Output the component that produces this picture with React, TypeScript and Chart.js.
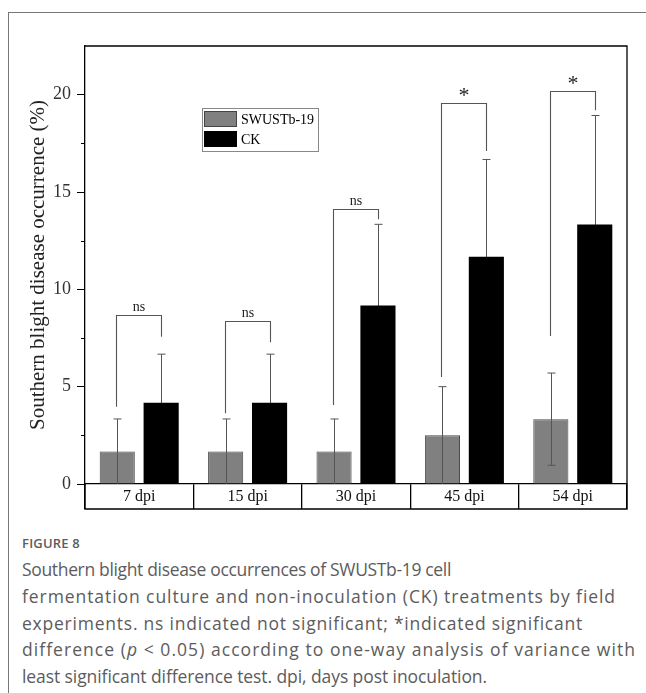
import React, { useEffect, useLayoutEffect, useRef } from "react";
import { Chart, registerables } from "chart.js";

Chart.register(...registerables);

const categories = ["7 dpi", "15 dpi", "30 dpi", "45 dpi", "54 dpi"];
const seriesNames = ["SWUSTb-19", "CK"];
const swustValues = [1.67, 1.67, 1.67, 2.5, 3.33];
const swustErrors = [1.67, 1.67, 1.67, 2.5, 2.37];
const ckValues = [4.17, 4.17, 9.17, 11.67, 13.33];
const ckErrors = [2.5, 2.5, 4.17, 5.0, 5.6];
const bracketLeft = [3.97, 3.63, 4.06, 5.5, 7.6];
const bracketTop = [8.67, 8.35, 14.12, 19.55, 20.2];
const bracketRight = [7.57, 7.28, 13.6, 17.1, 19.2];
const sigLabels = ["ns", "ns", "ns", "*", "*"];
const yTicks = [0, 5, 10, 15, 20];
const yMinorTicks = [2.5, 7.5, 12.5, 17.5];
const yMax = 22.5;
const yTitle = "Southern blight disease occurrence (%)";
const figureLabel = "FIGURE 8";
const captionLines = [
  "Southern blight disease occurrences of SWUSTb-19 cell",
  "fermentation culture and non-inoculation (CK) treatments by field",
  "experiments. ns indicated not significant; *indicated significant",
  "difference (p < 0.05) according to one-way analysis of variance with",
  "least significant difference test. dpi, days post inoculation.",
];
const captionWidths = [429, 594, 561, 614, 465];

const errorsBySeries = [swustErrors, ckErrors];
const SERIF = "'Liberation Serif', 'Times New Roman', serif";

function drawErrors(chart: any, dsIndex: number) {
  const ctx = chart.ctx;
  const y = chart.scales.y;
  const meta = chart.getDatasetMeta(dsIndex);
  const vals = chart.data.datasets[dsIndex].data as number[];
  const errs = errorsBySeries[dsIndex];
  ctx.save();
  ctx.strokeStyle = "#555";
  ctx.lineWidth = 1;
  meta.data.forEach((el: any, i: number) => {
    const x = Math.round(el.x) + 0.5;
    const top = y.getPixelForValue(vals[i] + errs[i]);
    const bot = y.getPixelForValue(Math.max(0, vals[i] - errs[i]));
    ctx.beginPath();
    ctx.moveTo(x, top);
    ctx.lineTo(x, bot);
    ctx.moveTo(x - 4, top);
    ctx.lineTo(x + 4, top);
    if (vals[i] - errs[i] > 0.05) {
      ctx.moveTo(x - 4, bot);
      ctx.lineTo(x + 4, bot);
    }
    ctx.stroke();
  });
  ctx.restore();
}

const decorPlugin = {
  id: "decor",
  beforeDatasetsDraw(chart: any) {
    drawErrors(chart, 1);
  },
  afterDatasetsDraw(chart: any) {
    drawErrors(chart, 0);
    const ctx = chart.ctx;
    const y = chart.scales.y;
    const m0 = chart.getDatasetMeta(0);
    const m1 = chart.getDatasetMeta(1);
    ctx.save();
    ctx.strokeStyle = "#555";
    ctx.lineWidth = 1.1;
    categories.forEach((_, i) => {
      const xl = Math.round(m0.data[i].x) - 0.5;
      const xr = Math.round(m1.data[i].x) + 0.5;
      const yl = y.getPixelForValue(bracketLeft[i]);
      const yt = Math.round(y.getPixelForValue(bracketTop[i])) + 0.5;
      const yr = y.getPixelForValue(bracketRight[i]);
      ctx.beginPath();
      ctx.moveTo(xl, yl);
      ctx.lineTo(xl, yt);
      ctx.lineTo(xr, yt);
      ctx.lineTo(xr, yr);
      ctx.stroke();
      const isStar = sigLabels[i] === "*";
      ctx.fillStyle = "#222";
      ctx.font = (isStar ? "22px " : "14px ") + SERIF;
      ctx.textAlign = "center";
      ctx.textBaseline = "alphabetic";
      ctx.fillText(sigLabels[i], (xl + xr) / 2, yt - (isStar ? 2 : 5));
    });
    ctx.restore();
  },
  afterDraw(chart: any) {
    const ctx = chart.ctx;
    const a = chart.chartArea;
    const y = chart.scales.y;
    const boxBottom = a.bottom + 25;
    ctx.save();
    ctx.strokeStyle = "#000";
    ctx.lineWidth = 1.3;
    ctx.beginPath();
    ctx.moveTo(a.left, a.top);
    ctx.lineTo(a.right, a.top);
    ctx.lineTo(a.right, boxBottom);
    ctx.lineTo(a.left, boxBottom);
    ctx.lineTo(a.left, a.bottom);
    ctx.stroke();
    ctx.lineWidth = 1;
    ctx.beginPath();
    yMinorTicks.forEach((v) => {
      const py = Math.round(y.getPixelForValue(v)) + 0.5;
      ctx.moveTo(a.left - 4, py);
      ctx.lineTo(a.left, py);
    });
    ctx.stroke();
    const lx = 202, ly = 108, lw = 116, lh = 43;
    ctx.strokeStyle = "#888";
    ctx.lineWidth = 1;
    ctx.strokeRect(lx + 0.5, ly + 0.5, lw, lh);
    chart.data.datasets.forEach((ds: any, i: number) => {
      const sy = ly + 3 + i * 20;
      ctx.fillStyle = ds.backgroundColor;
      ctx.fillRect(lx + 2, sy, 33, 16);
      ctx.strokeStyle = i === 0 ? "#444" : "#000";
      ctx.strokeRect(lx + 2.5, sy + 0.5, 32, 15);
      ctx.fillStyle = "#000";
      ctx.font = "14px " + SERIF;
      ctx.textAlign = "left";
      ctx.textBaseline = "middle";
      ctx.fillText(ds.label, lx + 39, sy + 9);
    });
    ctx.restore();
  },
};

export default function App() {
  const ref = useRef<HTMLCanvasElement | null>(null);
  const spans = useRef<(HTMLSpanElement | null)[]>([]);

  useLayoutEffect(() => {
    spans.current.forEach((s, i) => {
      if (!s) return;
      s.style.letterSpacing = "0px";
      const w = s.getBoundingClientRect().width;
      const n = (s.textContent || "").length;
      s.style.letterSpacing = (captionWidths[i] - w) / n + "px";
    });
  }, []);

  useEffect(() => {
    if (!ref.current) return;
    const chart = new Chart(ref.current, {
      type: "bar",
      data: {
        labels: categories,
        datasets: [
          {
            label: seriesNames[0],
            data: swustValues,
            backgroundColor: "#808080",
            borderColor: "#4a4a4a",
            borderWidth: 1,
          },
          {
            label: seriesNames[1],
            data: ckValues,
            backgroundColor: "#000000",
            borderColor: "#000000",
            borderWidth: 0,
          },
        ],
      },
      options: {
        responsive: false,
        animation: false,
        devicePixelRatio: 1,
        layout: { padding: { left: 0, right: 19, top: 46, bottom: 0 } },
        datasets: { bar: { categoryPercentage: 0.81, barPercentage: 0.8 } },
        plugins: { legend: { display: false }, tooltip: { enabled: false } },
        scales: {
          x: {
            grid: {
              display: true,
              drawOnChartArea: false,
              tickLength: 25,
              color: "#000",
              lineWidth: 1.3,
              offset: true,
            },
            border: { display: true, color: "#000", width: 1.3 },
            ticks: {
              font: { family: SERIF, size: 16 },
              color: "#111",
              padding: -22,
              maxRotation: 0,
            },
            afterFit: (s: any) => {
              s.height = 36;
            },
          },
          y: {
            min: 0,
            max: yMax,
            afterBuildTicks: (s: any) => {
              s.ticks = yTicks.map((v) => ({ value: v }));
            },
            grid: {
              drawOnChartArea: false,
              tickLength: 8,
              color: "#000",
              lineWidth: 1,
            },
            border: { display: true, color: "#000", width: 1.3 },
            ticks: {
              font: { family: SERIF, size: 18 },
              color: "#333",
              padding: 6,
            },
            title: {
              display: true,
              text: yTitle,
              font: { family: SERIF, size: 21 },
              color: "#222",
              padding: { top: 26, bottom: 0 },
            },
            afterFit: (s: any) => {
              s.width = 85;
            },
          },
        },
      },
      plugins: [decorPlugin],
    } as any);
    return () => chart.destroy();
  }, []);

  return (
    <div
      style={{
        position: "absolute",
        left: 0,
        top: 0,
        width: 646,
        height: 693,
        background: "#fff",
        overflow: "hidden",
      }}
    >
      <div
        style={{
          position: "absolute",
          left: 8,
          top: 12,
          width: 660,
          height: 700,
          borderTop: "1.5px solid #777",
          borderLeft: "1.5px solid #777",
        }}
      />
      <canvas
        ref={ref}
        width={646}
        height={520}
        style={{ position: "absolute", left: 0, top: 0, width: 646, height: 520 }}
      />
      <div
        style={{
          position: "absolute",
          left: 22,
          top: 530,
          fontFamily: "'Open Sans', 'Noto Sans', sans-serif",
          color: "#5c5c5c",
        }}
      >
        <div style={{ fontSize: 13, fontWeight: 600, lineHeight: "26px", letterSpacing: 0.2 }}>
          {figureLabel}
        </div>
        {captionLines.map((l, i) => (
          <div key={i} style={{ fontSize: 17.5, lineHeight: "26.8px", whiteSpace: "nowrap" }}>
            <span ref={(el) => { spans.current[i] = el; }}>
              {i === 3 ? (
                <>
                  difference (<i>p</i> {"<"} 0.05) according to one-way analysis of variance with
                </>
              ) : (
                l
              )}
            </span>
          </div>
        ))}
      </div>
    </div>
  );
}
